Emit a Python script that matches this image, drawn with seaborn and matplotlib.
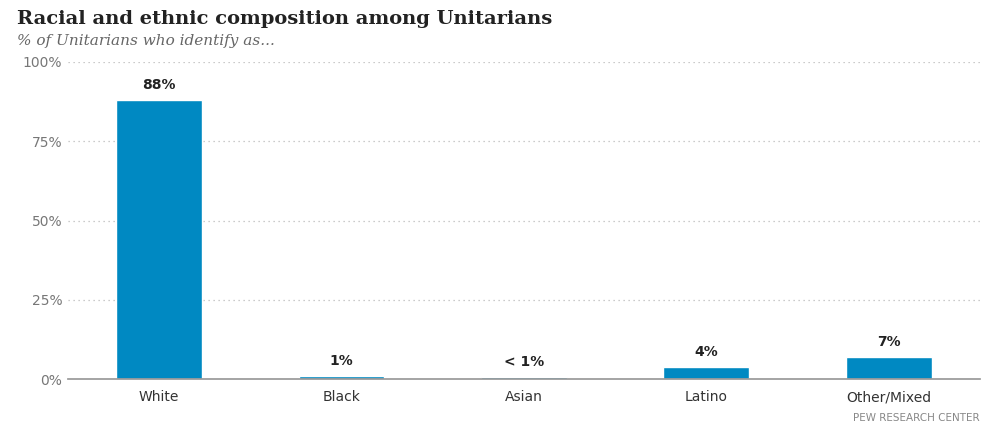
import matplotlib
matplotlib.use("Agg")
import matplotlib.pyplot as plt
import seaborn as sns
import pandas as pd

categories = ["White", "Black", "Asian", "Latino", "Other/Mixed"]
values = [88, 1, 0.8, 4, 7]
value_labels = ["88%", "1%", "< 1%", "4%", "7%"]
yticks = [0, 25, 50, 75, 100]
ytick_labels = ["0%", "25%", "50%", "75%", "100%"]

sns.set_theme(style="white")
plt.rcParams['font.family'] = ['DejaVu Sans']

fig = plt.figure(figsize=(9.97, 4.30), dpi=100)
ax = fig.add_axes([0.068, 0.118, 0.915, 0.738])
df = pd.DataFrame({"cat": categories, "val": values})
sns.barplot(data=df, x="cat", y="val", color="#0089c2", saturation=1, width=0.47, ax=ax)
ax.set_xlim(-0.5, 4.5)
ax.set_ylim(0, 100)
ax.set_yticks(yticks)
ax.set_yticklabels(ytick_labels, color="#777777", fontsize=10)
ax.tick_params(axis="x", colors="#333333", labelsize=10, length=0, pad=8)
ax.tick_params(axis="y", length=0, pad=4)
ax.set_xlabel(""); ax.set_ylabel("")
for y in yticks[1:]:
    ax.axhline(y, color="#bbbbbb", linestyle=(0, (1, 3)), linewidth=0.9, zorder=0)
for s in ["top", "right", "left"]:
    ax.spines[s].set_visible(False)
ax.spines["bottom"].set_color("#999999")
for p, lab in zip(ax.patches, value_labels):
    ax.text(p.get_x() + p.get_width() / 2, p.get_height() + 2.5, lab,
            ha="center", va="bottom", fontsize=10, fontweight="bold", color="#222222")
fig.text(0.017, 0.955, "Racial and ethnic composition among Unitarians",
         family="DejaVu Serif", fontweight="bold", fontsize=14, color="#222222", va="center")
fig.text(0.017, 0.905, "% of Unitarians who identify as...", family="DejaVu Serif",
         style="italic", fontsize=11, color="#666666", va="center")
fig.text(0.983, 0.022, "PEW RESEARCH CENTER", ha="right", fontsize=7.5, color="#888888")
fig.savefig("out.png", dpi=100, facecolor="white")
